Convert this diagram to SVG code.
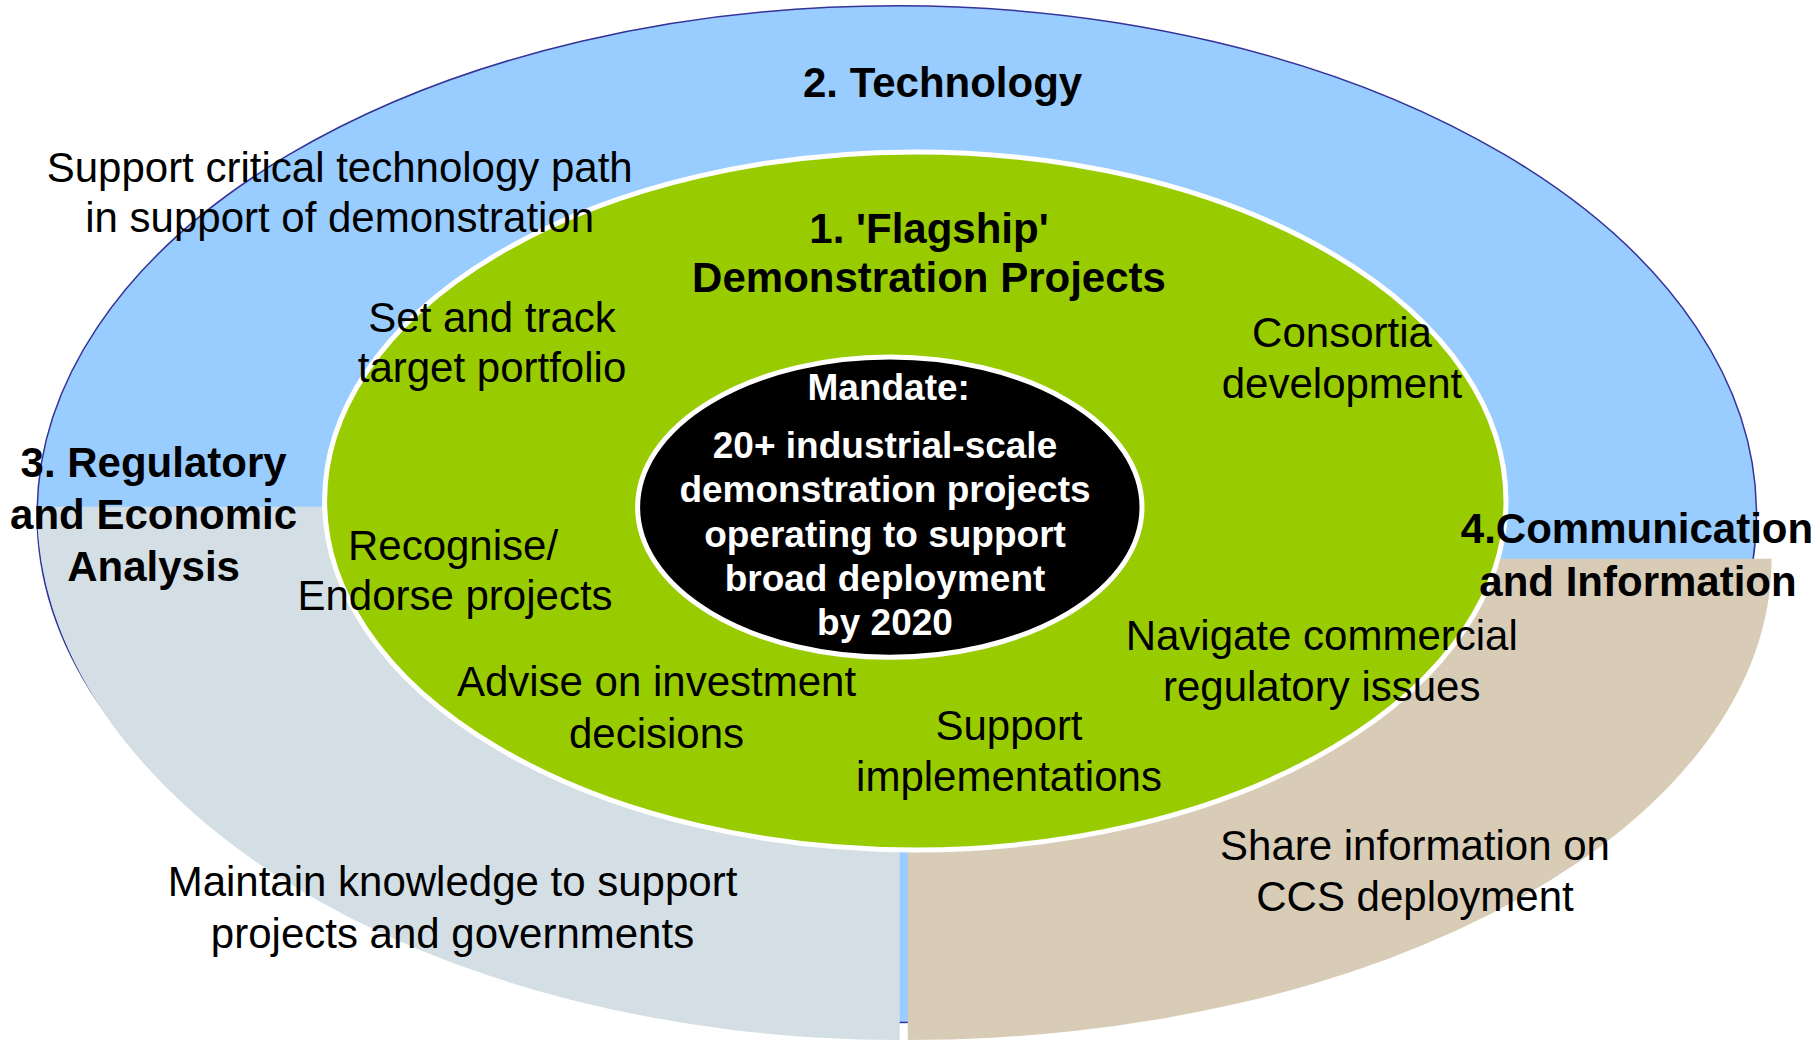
<svg xmlns="http://www.w3.org/2000/svg" width="1818" height="1046" viewBox="0 0 1818 1046">
<style>
text{font-family:"Liberation Sans",Arial,sans-serif;text-anchor:middle;fill:#000}
.r{font-size:42px}
.b{font-size:42px;font-weight:bold}
.m{font-size:37px;font-weight:bold;fill:#fff}
</style>
<rect width="1818" height="1046" fill="#fff"/>
<g id="technology">
<ellipse cx="896.8" cy="514.2" rx="859.7" ry="508.4" fill="#99CCFF" stroke="#333399" stroke-width="1.5"/>
</g>
<g id="regulatory">
<path d="M899.7,506.7 L37,506.7 A862.6,533.3 0 0 0 899.7,1040 Z" fill="#D3DFE5"/>
</g>
<g id="communication">
<path d="M907.8,558.8 L907.8,1040 A863.8,481.2 0 0 0 1771.6,558.8 Z" fill="#D8CCB7"/>
</g>
<g id="flagship">
<ellipse cx="915.3" cy="500.9" rx="590.7" ry="349" fill="#99CC00" stroke="#fff" stroke-width="5"/>
</g>
<g id="mandate">
<ellipse cx="889.8" cy="507.2" rx="252.2" ry="150.1" fill="#000" stroke="#fff" stroke-width="5"/>
<text class="m" x="888.7" y="400">Mandate:</text>
<text class="m" x="885" y="458">20+ industrial-scale</text>
<text class="m" x="885" y="502">demonstration projects</text>
<text class="m" x="885" y="547">operating to support</text>
<text class="m" x="885" y="591">broad deployment</text>
<text class="m" x="885" y="635">by 2020</text>
</g>
<g id="connectors"/>
<g id="labels">
<text class="b" x="942.6" y="97">2. Technology</text>
<text class="r" x="339.7" y="182">Support critical technology path</text>
<text class="r" x="339.7" y="232">in support of demonstration</text>
<text class="b" x="929" y="243">1. 'Flagship'</text>
<text class="b" x="929" y="292">Demonstration Projects</text>
<text class="r" x="492" y="332">Set and track</text>
<text class="r" x="492" y="382">target portfolio</text>
<text class="r" x="1342" y="347">Consortia</text>
<text class="r" x="1342" y="398">development</text>
<text class="b" x="153.6" y="477">3. Regulatory</text>
<text class="b" x="153.6" y="529">and Economic</text>
<text class="b" x="153.6" y="581">Analysis</text>
<text class="b" x="1637" y="543">4.Communication</text>
<text class="b" x="1638" y="596">and Information</text>
<text class="r" x="453" y="560">Recognise/</text>
<text class="r" x="455" y="610">Endorse projects</text>
<text class="r" x="656.5" y="696">Advise on investment</text>
<text class="r" x="656.5" y="748">decisions</text>
<text class="r" x="1009" y="740">Support</text>
<text class="r" x="1009" y="791">implementations</text>
<text class="r" x="1321.7" y="650">Navigate commercial</text>
<text class="r" x="1321.7" y="701">regulatory issues</text>
<text class="r" x="1415" y="860">Share information on</text>
<text class="r" x="1415" y="911">CCS deployment</text>
<text class="r" x="452.5" y="896">Maintain knowledge to support</text>
<text class="r" x="452.5" y="948">projects and governments</text>
</g>
</svg>
